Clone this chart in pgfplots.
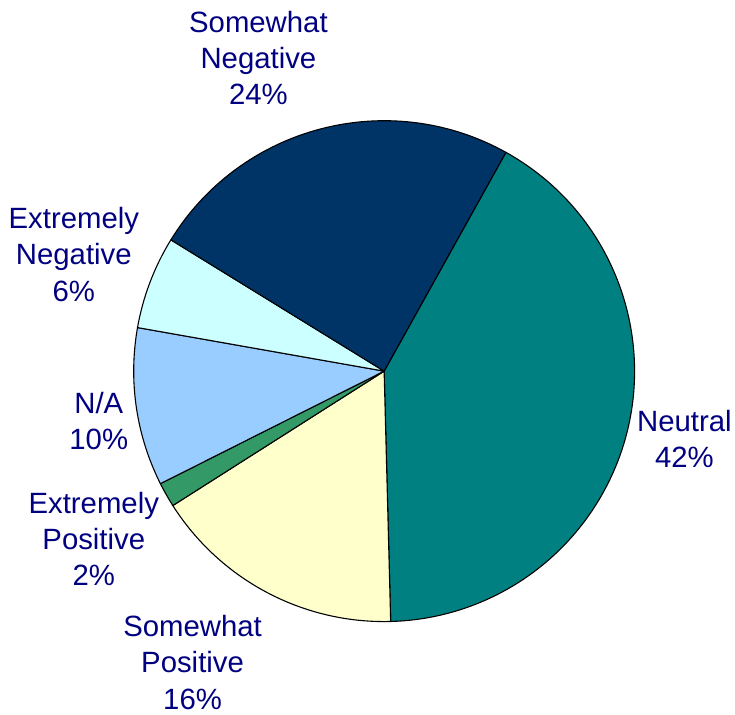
\documentclass[border=0pt]{standalone}
\usepackage{pgfplots}
\usepackage{pgfplotstable}
\pgfplotsset{compat=1.18}
\usepackage{fontspec}
\setmainfont{Liberation Sans}
\definecolor{neutral}{HTML}{008080}
\definecolor{swpos}{HTML}{FFFFCC}
\definecolor{expos}{HTML}{339966}
\definecolor{na}{HTML}{99CCFF}
\definecolor{exneg}{HTML}{CCFFFF}
\definecolor{swneg}{HTML}{003366}
\definecolor{lbl}{HTML}{000080}
\pgfplotstableread{
pct color
41.5 neutral
16.4 swpos
1.6 expos
10.2 na
6.0 exneg
24.3 swneg
}\piedata
\begin{document}
\begin{tikzpicture}
\begin{axis}[
  x=1bp, y=1bp, y dir=reverse,
  xmin=0, xmax=735, ymin=0, ymax=716,
  hide axis, clip=false,
  scale only axis,
]
\addplot[draw=none, forget plot] coordinates {(0,0) (735,716)};
\pgfplotsextra{
  \xdef\curangle{60.9}
  \foreach \i in {0,...,5} {
    \pgfplotstablegetelem{\i}{pct}\of\piedata
    \let\p\pgfplotsretval
    \pgfplotstablegetelem{\i}{color}\of\piedata
    \let\c\pgfplotsretval
    \pgfmathsetmacro{\a}{\curangle}
    \pgfmathsetmacro{\b}{\curangle-3.6*\p}
    \fill[fill=\c, draw=black, line width=1.1pt, line join=round]
      (axis cs:385,372) -- ++(\a:251bp) arc[start angle=\a, end angle=\b, radius=251bp] -- cycle;
    \xdef\curangle{\b}
  }
}
\begin{scope}[every node/.style={text=lbl, align=center, font=\fontsize{29.5}{36.5}\selectfont}]
\node at (axis cs:259,58) {Somewhat\\Negative\\24\%};
\node at (axis cs:74,255) {Extremely\\Negative\\6\%};
\node at (axis cs:99,422) {N/A\\10\%};
\node at (axis cs:94,540) {Extremely\\Positive\\2\%};
\node at (axis cs:193,664) {Somewhat\\Positive\\16\%};
\node at (axis cs:686,440) {Neutral\\42\%};
\end{scope}
\end{axis}
\end{tikzpicture}
\end{document}
